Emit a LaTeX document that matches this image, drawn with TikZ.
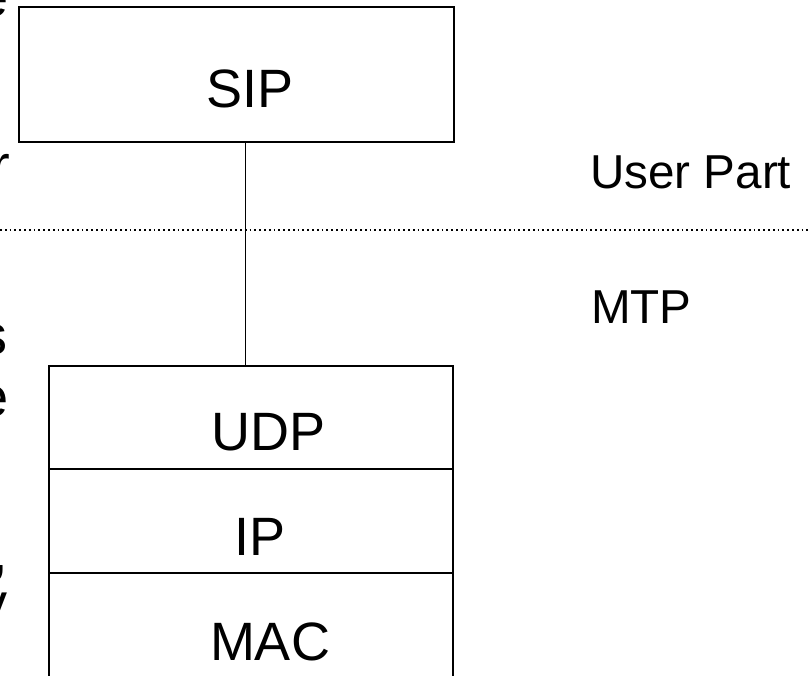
\documentclass[tikz,border=0pt]{standalone}
\usepackage{fontspec}
\setmainfont{Liberation Sans}
\begin{document}
\begin{tikzpicture}[x=1pt,y=-1pt,
  boxshape/.style={draw=black,line width=2.3pt,rectangle,inner sep=0pt,outer sep=0pt,fill=none},
  biglabel/.style={font=\fontsize{54}{60}\selectfont,inner sep=0pt,anchor=base},
  sidelabel/.style={font=\fontsize{47.6}{52}\selectfont,inner sep=0pt,anchor=base west},
  fraglabel/.style={font=\fontsize{56}{62}\selectfont,inner sep=0pt,anchor=base east},
  link/.style={draw=black,line width=1.7pt},
  sepline/.style={draw=black,line width=2pt,dash pattern=on 1.8pt off 3pt}
]
\useasboundingbox (0,0) rectangle (808,676);
\clip (0,0) rectangle (808,676);
\fill[white] (0,0) rectangle (808,676);

% boxes
\node[boxshape,minimum width=435pt,minimum height=135pt] (sipbox) at (236.5,74.5) {};
\node[boxshape,minimum width=404pt,minimum height=103pt] (udpbox) at (251,417.5) {};
\node[boxshape,minimum width=404pt,minimum height=104pt] (ipbox) at (251,521) {};
\node[boxshape,minimum width=404pt,minimum height=120pt] (macbox) at (251,633) {};

% labels
\node[biglabel] (sip) at (250,108) {SIP};
\node[biglabel] (udp) at (269,450) {UDP};
\node[biglabel] (ip) at (260,555) {IP};
\node[biglabel] (mac) at (270,660) {MAC};

\node[sidelabel] (user) at (590,189) {User Part};
\node[sidelabel] (mtp) at (591,323) {MTP};

% cut-off text fragments at the left edge
\node[fraglabel] (f1) at (9,17) {e};
\node[fraglabel] (f2) at (10,185) {r};
\node[fraglabel] (f3) at (8,354) {s};
\node[fraglabel] (f4) at (9,416) {e};
\node[fraglabel] (f5) at (8,571) {,};
\node[fraglabel] (f6) at (8,622) {y};

% connector
\coordinate (conn) at (245.5,0);
\draw[link] (sipbox.south -| conn) -- (udpbox.north -| conn);

% dotted separator
\draw[sepline] (0,230) -- (808,230);
\end{tikzpicture}
\end{document}
